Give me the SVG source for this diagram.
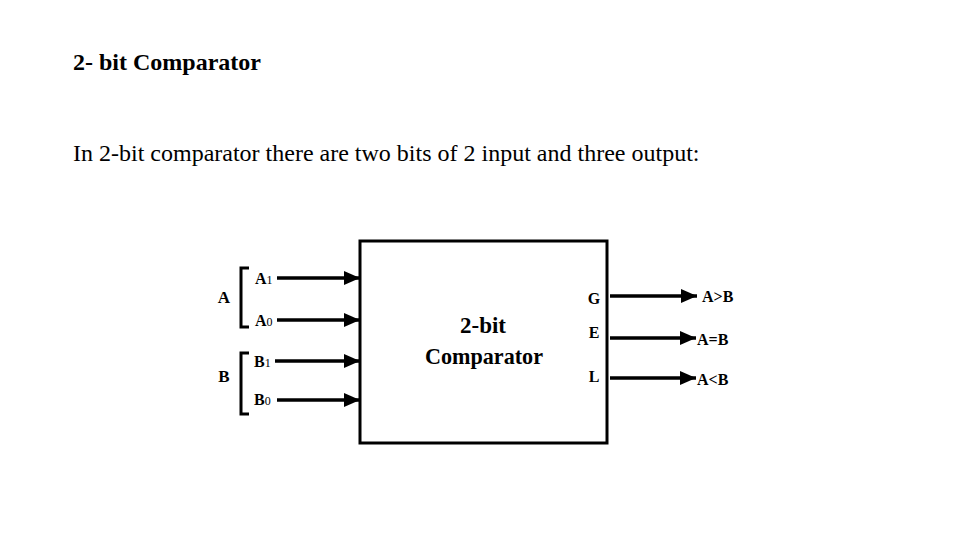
<svg xmlns="http://www.w3.org/2000/svg" width="960" height="540" viewBox="0 0 960 540">
<style>
.t{font-family:"Liberation Serif",serif;fill:#000}
.b{font-weight:bold}
.ln{stroke:#000;stroke-width:3.5;fill:none}
.br{stroke:#000;stroke-width:3;fill:none}
</style>
<defs>
<marker id="ah" viewBox="0 0 16 14" refX="16" refY="7" markerWidth="16" markerHeight="14" markerUnits="userSpaceOnUse" orient="auto">
<path d="M0,0 L16,7 L0,14 z" fill="#000"/>
</marker>
</defs>
<rect width="960" height="540" fill="#fff"/>
<text class="t b" x="73" y="70" font-size="24">2- bit Comparator</text>
<text class="t" x="73" y="161" font-size="24">In 2-bit comparator there are two bits of 2 input and three output:</text>
<g id="comparator">
<rect x="360" y="241" width="247" height="202" fill="#fff" stroke="#000" stroke-width="3"/>
<text class="t b" x="483" y="333" font-size="24" text-anchor="middle" textLength="46" lengthAdjust="spacingAndGlyphs">2-bit</text>
<text class="t b" x="484" y="364" font-size="24" text-anchor="middle" textLength="118" lengthAdjust="spacingAndGlyphs">Comparator</text>
<text class="t b" x="594" y="304" font-size="16" text-anchor="middle">G</text>
<text class="t b" x="594" y="338" font-size="16" text-anchor="middle">E</text>
<text class="t b" x="594" y="382" font-size="16" text-anchor="middle">L</text>
</g>
<g id="inputA">
<path class="br" d="M249,268 H241 V327 H249"/>
<text class="t b" x="224" y="303" font-size="17" text-anchor="middle">A</text>
<text class="t b" x="255" y="284" font-size="16">A<tspan font-size="12" font-weight="normal">1</tspan></text>
<text class="t b" x="255" y="326" font-size="16">A<tspan font-size="12" font-weight="normal">0</tspan></text>
</g>
<g id="inputB">
<path class="br" d="M249,353 H241 V414 H249"/>
<text class="t b" x="224" y="382" font-size="17" text-anchor="middle">B</text>
<text class="t b" x="254" y="367" font-size="16">B<tspan font-size="12" font-weight="normal">1</tspan></text>
<text class="t b" x="254" y="405" font-size="16">B<tspan font-size="12" font-weight="normal">0</tspan></text>
</g>
<g id="outputs">
<text class="t b" x="702" y="302" font-size="16">A&gt;B</text>
<text class="t b" x="697" y="345" font-size="16">A=B</text>
<text class="t b" x="697" y="385" font-size="16">A&lt;B</text>
</g>
<g id="connectors">
<line class="ln" x1="277" y1="278" x2="360" y2="278" marker-end="url(#ah)"/>
<line class="ln" x1="277" y1="320" x2="360" y2="320" marker-end="url(#ah)"/>
<line class="ln" x1="275" y1="361" x2="360" y2="361" marker-end="url(#ah)"/>
<line class="ln" x1="277" y1="400" x2="360" y2="400" marker-end="url(#ah)"/>
<line class="ln" x1="610" y1="296" x2="697" y2="296" marker-end="url(#ah)"/>
<line class="ln" x1="610" y1="338" x2="696" y2="338" marker-end="url(#ah)"/>
<line class="ln" x1="610" y1="378" x2="696" y2="378" marker-end="url(#ah)"/>
</g>
</svg>
